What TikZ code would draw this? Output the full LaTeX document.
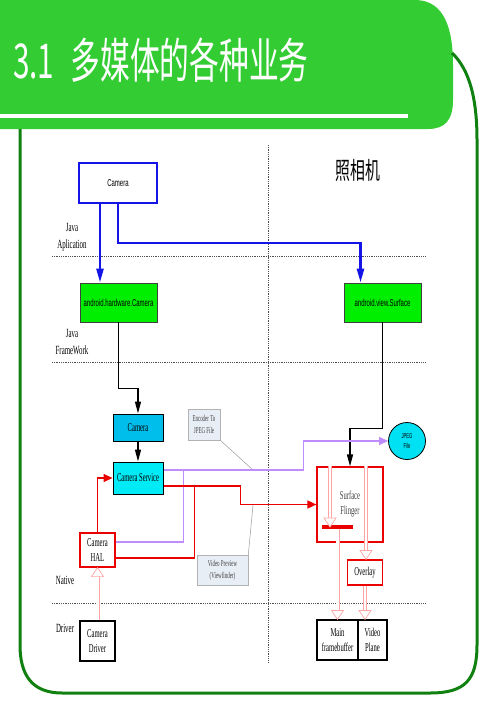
\documentclass[tikz,border=0pt]{standalone}
\usepackage{fontspec}
\setmainfont{Liberation Serif}
\newfontfamily\nserif[FakeStretch=0.55]{Liberation Serif}
\newfontfamily\nsans[FakeStretch=0.6]{Liberation Sans}
\newfontfamily\cjk[FakeStretch=0.62]{Noto Sans CJK SC}
\usetikzlibrary{arrows.meta, decorations.markings, calc}

\definecolor{bannergreen}{RGB}{51,204,51}
\definecolor{framegreen}{RGB}{16,128,16}
\definecolor{boxgreen}{RGB}{0,238,0}
\definecolor{camblue}{RGB}{0,190,235}
\definecolor{servcyan}{RGB}{0,235,245}
\definecolor{lineblue}{RGB}{20,20,230}
\definecolor{linered}{RGB}{235,0,0}
\definecolor{linepurple}{RGB}{190,140,255}
\definecolor{pinkline}{RGB}{255,165,165}
\definecolor{calloutfill}{RGB}{232,238,246}
\definecolor{dotgrey}{RGB}{80,80,80}

\tikzset{
  box/.style={draw, inner sep=0pt, align=center, font=\nserif\fontsize{12}{15}\selectfont},
  sz/.style 2 args={minimum width=#1, minimum height=#2},
  javabox/.style={box, fill=boxgreen, draw=black!75, line width=0.8pt, font=\nsans\fontsize{10}{11}\selectfont},
  redbox/.style={box, draw=linered, line width=1.2pt},
  blackbox/.style={box, draw=black, line width=1.2pt},
  callout/.style={box, fill=calloutfill, draw=black!30, line width=0.5pt, text=black!75, font=\nserif\fontsize{9}{12}\selectfont},
  layer/.style={align=center, font=\nserif\fontsize{12.5}{17}\selectfont},
  divider/.style={dotgrey, densely dotted, line width=0.8pt},
  bluearrow/.style={lineblue, line width=2.5pt, -{Triangle[length=14pt,width=7pt]}},
  blackarrow/.style={black, line width=1.5pt, -{Triangle[length=12pt,width=6pt]}},
  redarrow/.style={linered, line width=1.6pt, -{Triangle[length=9pt,width=8pt]}},
  redline/.style={linered, line width=1.6pt},
  purplearrow/.style={linepurple, line width=1.2pt, -{Triangle[length=9pt,width=8pt]}},
  purpleline/.style={linepurple, line width=1.2pt},
  hollow/.style={draw=white, line width=2.6pt, shorten >=7pt,
    preaction={draw=pinkline, line width=4pt, shorten >=7pt},
    postaction={decorate, decoration={markings, mark=at position 1 with
      {\draw[pinkline, fill=white, line width=0.7pt] (0,0) -- (-9pt,6pt) -- (-9pt,-6pt) -- cycle;}}}}
}

\begin{document}
\begin{tikzpicture}[x=1pt, y=-1pt]
\useasboundingbox (0,0) rectangle (499,706);

\fill[bannergreen] (0,0) -- (415,0) .. controls (445,0) and (453,30) .. (453,65)
  -- (453,100) .. controls (453,120) and (445,129) .. (428,129) -- (0,129) -- cycle;
\draw[white, line width=3.5pt] (0,116) -- (408,116);
\draw[framegreen, line width=3pt] (452,53) .. controls (470,70) and (477,100) .. (477,140)
  -- (477,645) .. controls (477,680) and (465,693) .. (430,693) -- (62,693)
  .. controls (32,693) and (20,675) .. (20,645) -- (20,129);
\node[anchor=west, inner sep=0pt, text=white, font=\cjk\fontsize{48}{50}\selectfont] (title) at (13,60) {3.1\hspace{16pt}多媒体的各种业务};

\draw[divider] (268,145) -- (268,663);
\draw[divider] (52,256) -- (425,256);
\draw[divider] (52,362) -- (425,362);
\draw[divider] (52,603) -- (425,603);

\node[font=\cjk\fontsize{24}{26}\selectfont] (camtitle) at (358,170) {照相机};
\node[layer] (javaapp) at (72,237) {Java\\Aplication};
\node[layer] (javafw) at (72,342) {Java\\FrameWork};
\node[layer] (native) at (65,580) {Native};
\node[layer] (drv) at (65,628) {Driver};

\node[box, sz={78pt}{40pt}, draw=lineblue, line width=1.5pt, font=\nsans\fontsize{10}{11}\selectfont] (app) at (118,183) {Camera};
\node[javabox, sz={77pt}{39pt}] (hwcam) at (118.5,302.5) {android.hardware.Camera};
\node[javabox, sz={77pt}{39pt}] (viewsurf) at (382.5,302.5) {android.view.Surface};
\node[box, sz={50pt}{27pt}, fill=camblue, line width=1pt] (cam) at (138,427.5) {Camera};
\node[box, sz={50pt}{32pt}, fill=servcyan, line width=1pt] (service) at (138,478) {Camera Service};
\node[redbox, sz={35pt}{34pt}] (hal) at (97.5,550) {Camera\\HAL};
\node[blackbox, sz={35pt}{40pt}] (driver) at (97.5,641) {Camera\\Driver};
\node[redbox, sz={66pt}{75pt}, text=black!75] (sf) at (350,504.5) {Surface\\Flinger};
\node[fill=linered, inner sep=0pt, sz={31pt}{3.5pt}] (bar) at (337.5,527) {};
\node[redbox, sz={35pt}{25pt}] (overlay) at (365,572.5) {Overlay};
\node[blackbox, sz={41pt}{40pt}] (mainfb) at (337.5,640) {Main\\framebuffer};
\node[blackbox, sz={29pt}{40pt}] (vplane) at (372.5,640) {Video\\Plane};
\node[circle, draw, fill=servcyan!80!camblue, line width=0.8pt, minimum size=37pt, inner sep=0pt, align=center, font=\nsans\fontsize{7}{10}\selectfont] (jpeg) at (407,441) {JPEG\\File};
\node[callout, sz={32pt}{31pt}] (enc) at (204,424.5) {Encoder To\\JPEG File};
\node[callout, sz={51pt}{30pt}] (vp) at (222.5,570.5) {Video Preview\\(Viewfinder)};
\coordinate (encpt) at (253,470);
\coordinate (vppt) at (253,505);

\draw[black!40, line width=0.5pt] (enc.south east) -- (encpt);
\draw[black!40, line width=0.5pt] (vp.north east) -- (vppt);

\draw[bluearrow] ([xshift=-18pt]app.south) -- ([xshift=-18pt]app.south |- hwcam.north);
\draw[bluearrow] (app.south) -- ++(0,39) -| ([xshift=-22pt]viewsurf.north);
\draw[blackarrow] (hwcam.south) -- ++(0,66) -| (cam.north);
\draw[blackarrow] (cam.south) -- (service.north);
\draw[blackarrow] (viewsurf.south) -- ++(0,106) -| (sf.north);

\draw[purpleline] ([yshift=8pt]hal.east) -- ++(68,0) |- ([yshift=8pt]service.east);
\draw[purplearrow] ([yshift=8pt]service.east) -- ++(140,0) |- (jpeg.west);
\draw[redline] ([yshift=-8pt]hal.east) -- ++(79,0) |- ([yshift=-8pt]service.east);
\draw[redarrow] ([yshift=-8pt]service.east) -- ++(77,0) |- (sf.west);
\draw[redarrow] (hal.north) |- (service.west);

\draw[hollow] ([xshift=-20pt]sf.north) -- ([xshift=-20pt]sf.north |- bar.center);
\draw[hollow] ([xshift=16pt]sf.north) -- ([xshift=16pt]sf.north |- overlay.north);
\draw[hollow] (bar.south) -- (bar.south |- mainfb.north);
\draw[hollow] (overlay.south) -- (overlay.south |- vplane.north);
\draw[hollow] (driver.north) -- (hal.south);
\end{tikzpicture}
\end{document}
